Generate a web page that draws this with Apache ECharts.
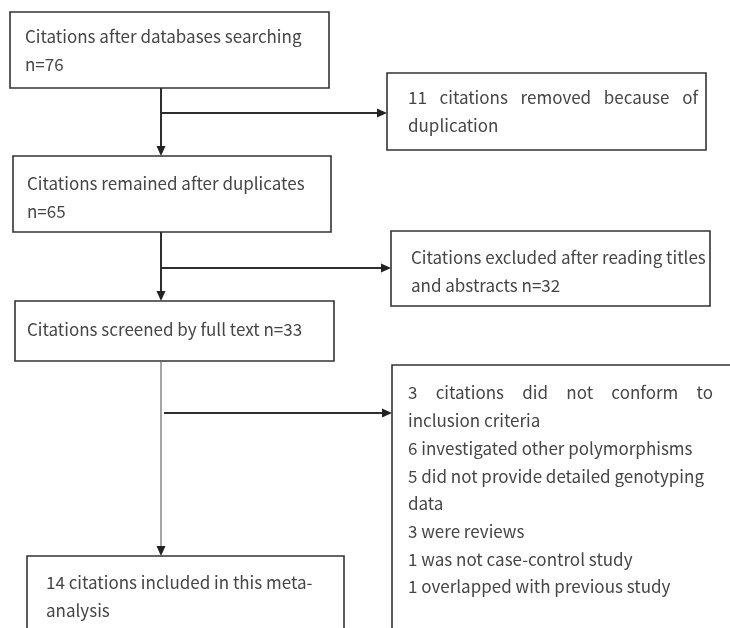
<!DOCTYPE html>
<html>
<head>
<meta charset="utf-8">
<script src="https://cdn.jsdelivr.net/npm/echarts@6/dist/echarts.min.js"></script>
<style>
  html, body { margin: 0; padding: 0; background: #fff; }
  #flow { width: 730px; height: 628px; }
</style>
</head>
<body>
<div id="flow"></div>
<script>
// box texts, one array of lines per box
const boxTexts = [
  ['Citations after databases searching', 'n=76'],
  ['11 citations removed because of', 'duplication'],
  ['Citations remained after duplicates', 'n=65'],
  ['Citations screened by full text n=33'],
  ['Citations excluded after reading titles', 'and abstracts n=32'],
  ['3 citations did not conform to', 'inclusion criteria', '6 investigated other polymorphisms',
   '5 did not provide detailed genotyping', 'data', '3 were reviews',
   '1 was not case-control study', '1 overlapped with previous study'],
  ['14 citations included in this meta-', 'analysis']
];
// which lines are stretched to the right edge
const justified = [[], [0], [], [], [], [0], []];

// layout (chart units = px): box rect, first text line, right edge for justify
const boxLayout = [
  { rect: [10, 12, 329, 88], tx: 25, ty: 37, right: 320 },
  { rect: [387, 73, 706, 150], tx: 408, ty: 98, right: 698 },
  { rect: [13, 156, 331, 232], tx: 27, ty: 184, right: 320 },
  { rect: [15, 301, 334, 361], tx: 27, ty: 330, right: 320 },
  { rect: [391, 231, 710, 306], tx: 411, ty: 258, right: 705 },
  { rect: [392, 365, 745, 645], tx: 408, ty: 393, right: 713 },
  { rect: [27, 556, 344, 645], tx: 46, ty: 583, right: 335 }
];
const lineGap = 27.7;

// connectors: from, to, thin?
const links = [
  { from: [161, 88], to: [161, 156], thin: false },
  { from: [161, 113], to: [387, 113], thin: false },
  { from: [161, 232], to: [161, 301], thin: false },
  { from: [162, 268], to: [391, 268], thin: false },
  { from: [161, 361], to: [161, 556], thin: true },
  { from: [164, 413], to: [392, 413], thin: false }
];

const FONT = '17px "Noto Sans CJK SC", "Noto Sans", sans-serif';
const TEXT_COLOR = '#454545';
const measureCtx = document.createElement('canvas').getContext('2d');
measureCtx.font = FONT;

function lineItems(line, x, y, right, stretch) {
  if (!stretch) {
    return [{ type: 'text', style: { x: x, y: y, text: line, font: FONT, fill: TEXT_COLOR, align: 'left', verticalAlign: 'middle' } }];
  }
  let words = line.split(' ');
  let widths = words.map(w => measureCtx.measureText(w).width);
  let total = widths.reduce((a, b) => a + b, 0);
  let gap = (right - x - total) / (words.length - 1);
  let out = [];
  let cx = x;
  words.forEach((w, k) => {
    out.push({ type: 'text', style: { x: cx, y: y, text: w, font: FONT, fill: TEXT_COLOR, align: 'left', verticalAlign: 'middle' } });
    cx += widths[k] + gap;
  });
  return out;
}

let myChart = echarts.init(document.getElementById('flow'), null, { renderer: 'canvas' });
myChart.setOption({
  animation: false,
  grid: { left: 0, right: 0, top: 0, bottom: 0 },
  xAxis: { type: 'value', min: 0, max: 730, show: false },
  yAxis: { type: 'value', min: 0, max: 628, inverse: true, show: false },
  series: [
    {
      type: 'custom',
      clip: false,
      data: boxTexts.map((t, i) => [i, 0]),
      renderItem: function (params, api) {
        let i = api.value(0);
        let lay = boxLayout[i];
        let p0 = api.coord([lay.rect[0], lay.rect[1]]);
        let p1 = api.coord([lay.rect[2], lay.rect[3]]);
        let children = [{
          type: 'rect',
          shape: { x: p0[0], y: p0[1], width: p1[0] - p0[0], height: p1[1] - p0[1] },
          style: { fill: '#fff', stroke: '#333', lineWidth: 1.6 }
        }];
        boxTexts[i].forEach((line, k) => {
          let p = api.coord([lay.tx, lay.ty + k * lineGap]);
          let r = api.coord([lay.right, 0])[0];
          children = children.concat(lineItems(line, p[0], p[1], r, justified[i].indexOf(k) >= 0));
        });
        return { type: 'group', children: children };
      }
    },
    {
      type: 'custom',
      clip: false,
      data: links.map((l, i) => [i, 0]),
      renderItem: function (params, api) {
        let l = links[api.value(0)];
        let a = api.coord(l.from);
        let b = api.coord(l.to);
        let color = l.thin ? '#6a6a6a' : '#2e2e2e';
        let dx = Math.sign(b[0] - a[0]);
        let dy = Math.sign(b[1] - a[1]);
        let len = 10, half = 4.5;
        let base = [b[0] - dx * len, b[1] - dy * len];
        let tri = [b, [base[0] - dy * half, base[1] - dx * half], [base[0] + dy * half, base[1] + dx * half]];
        return {
          type: 'group',
          children: [
            { type: 'line', shape: { x1: a[0], y1: a[1], x2: base[0], y2: base[1] }, style: { stroke: color, lineWidth: l.thin ? 1.2 : 2 } },
            { type: 'polygon', shape: { points: tri }, style: { fill: '#222' } }
          ]
        };
      }
    }
  ]
});
</script>
</body>
</html>
